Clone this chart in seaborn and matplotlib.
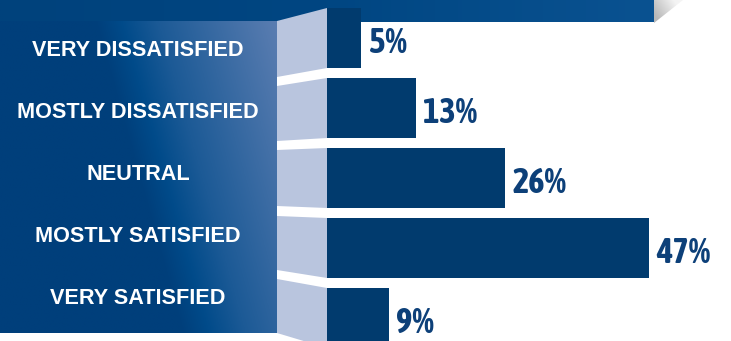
import numpy as np
import pandas as pd
import matplotlib
matplotlib.use("Agg")
import matplotlib.pyplot as plt
import seaborn as sns
from matplotlib.colors import LinearSegmentedColormap
from matplotlib.patches import Polygon

# ---- data ----
categories = ["VERY DISSATISFIED", "MOSTLY DISSATISFIED", "NEUTRAL",
              "MOSTLY SATISFIED", "VERY SATISFIED"]
values = [5, 13, 26, 47, 9]
value_labels = ["5%", "13%", "26%", "47%", "9%"]

df = pd.DataFrame({"category": categories, "value": values})

sns.set_theme(style="white")
plt.rcParams["font.family"] = ["Liberation Sans", "DejaVu Sans"]

W, H = 731, 341
fig = plt.figure(figsize=(W / 100, H / 100), dpi=100)
fig.patch.set_facecolor("white")

# ---- background decoration axes (pixel coordinates) ----
bg = fig.add_axes([0, 0, 1, 1])
bg.set_xlim(0, W)
bg.set_ylim(H, 0)
bg.axis("off")
bg.set_zorder(0)

# top band
band_cmap = LinearSegmentedColormap.from_list("band", ["#00427c", "#004682", "#0a5291"])
grad = np.linspace(0, 1, 300)[None, :]
bg.imshow(grad, cmap=band_cmap, extent=[0, 654, 22.5, 0], aspect="auto", zorder=1,
          interpolation="bilinear")

# bevel triangle at the right end of the band
tri = Polygon([[654, 0], [683, 0], [654, 23]], closed=True, facecolor="none",
              edgecolor="none")
bg.add_patch(tri)
gy, gx = np.mgrid[0:23:60j, 654:683:60j]
tg = np.clip((gx - 654) / 29 + (0 - gy) / 46 + 0.3, 0, 1)
im = bg.imshow(tg, cmap=LinearSegmentedColormap.from_list("g", ["#b8b8b8", "#f4f4f4"]),
               extent=[654, 683, 23, 0], aspect="auto", zorder=1, interpolation="bilinear")
im.set_clip_path(tri)

# left label panel with diagonal gradient
py0, py1, px1 = 21, 333, 277
yy, xx = np.mgrid[py0:py1:200j, 0:px1:200j]
t = np.clip((xx - 95 - 0.28 * (yy - py0)) / 185, 0, 1)
panel_cmap = LinearSegmentedColormap.from_list(
    "panel", [(0, "#003f7b"), (0.15, "#014b8a"), (0.35, "#1c5a96"), (1, "#5a7db1")])
bg.imshow(t, cmap=panel_cmap, extent=[0, px1, py1, py0], aspect="auto", zorder=2,
          interpolation="bilinear")

# row geometry (pixels)
bar_left = 327
row_pitch = 70
bar_h = 60
bar_top0 = 8
left_rows = [(21, 77), (86, 141), (150, 206), (216, 270), (279, 333)]
label_y0, label_pitch = 51, 61.75

# connectors between panel rows and bars
for i in range(len(categories)):
    lt, lb = left_rows[i]
    rt = bar_top0 + i * row_pitch
    rb = rt + bar_h
    poly = Polygon([[px1, lt], [bar_left, rt], [bar_left, rb], [px1, lb]],
                   closed=True, facecolor="#b9c5de", edgecolor="none", zorder=3)
    bg.add_patch(poly)

# category labels on the panel
for i, cat in enumerate(categories):
    bg.text(138, label_y0 + i * label_pitch, cat, color="white", fontsize=15.6,
            fontweight="bold", ha="center", va="center", zorder=5,
            family=["Liberation Sans", "DejaVu Sans"])

# ---- bar axes ----
px_per_unit = 6.86
n = len(categories)
top_px = bar_top0 + bar_h / 2 - row_pitch / 2       # top edge of category -0.5
height_px = n * row_pitch
ax = fig.add_axes([bar_left / W, (H - (top_px + height_px)) / H,
                   (W - bar_left) / W, height_px / H])
ax.set_zorder(2)
ax.patch.set_alpha(0)

sns.barplot(data=df, x="value", y="category", orient="h", color="#013b6e",
            width=bar_h / row_pitch, saturation=1, ax=ax, order=categories)
ax.set_xlim(0, (W - bar_left) / px_per_unit)
ax.set_ylim(n - 0.5, -0.5)
for p in ax.patches:
    p.set_edgecolor("none")

pct_family = ["Asap Condensed", "Liberation Sans"]
for i, (v, lab) in enumerate(zip(values, value_labels)):
    ax.annotate(lab, xy=(v, i), xytext=(5.2, -3.5), textcoords="offset points",
                ha="left", va="center", fontsize=25, fontweight="bold",
                color="#0d4079", family=pct_family)
ax.axis("off")

fig.savefig("out.png", dpi=100, facecolor="white")
